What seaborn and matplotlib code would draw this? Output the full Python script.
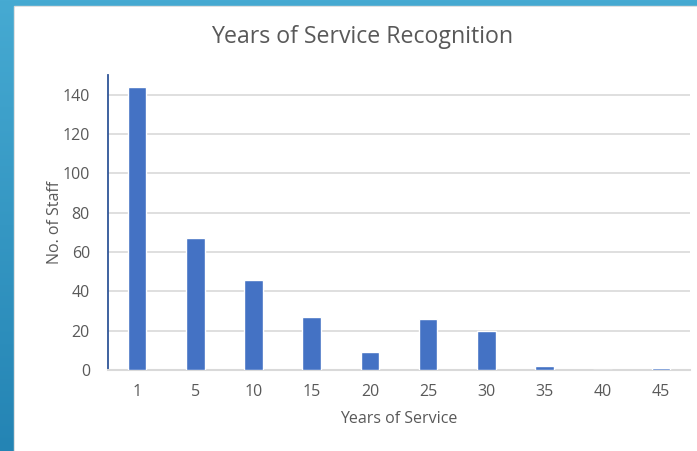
import numpy as np
import pandas as pd
import matplotlib
matplotlib.use("Agg")
import matplotlib.pyplot as plt
import seaborn as sns
from matplotlib.colors import LinearSegmentedColormap

years = ["1", "5", "10", "15", "20", "25", "30", "35", "40", "45"]
staff = [144, 67, 46, 27, 9, 26, 20, 2, 0, 1]
yticks = [0, 20, 40, 60, 80, 100, 120, 140]

sns.set_theme(style="white")
plt.rcParams['font.family'] = ['Open Sans', 'DejaVu Sans']

W, H = 697, 451
fig = plt.figure(figsize=(W / 100, H / 100), dpi=100)

# background frame with blue gradient
bg = fig.add_axes([0, 0, 1, 1], zorder=-10)
grad = np.linspace(0, 1, 256).reshape(-1, 1)
cmap = LinearSegmentedColormap.from_list("b", ["#46AAD2", "#2484B4"])
bg.imshow(grad, aspect="auto", cmap=cmap, extent=[0, 1, 0, 1], origin="upper")
bg.add_patch(plt.Rectangle((14 / W, 0), 1, 1 - 6 / H, color="#DADADA", zorder=2))
bg.add_patch(plt.Rectangle((15 / W, 0), 1, 1 - 7 / H, color="white", zorder=3))
bg.set_xlim(0, 1)
bg.set_ylim(0, 1)
bg.axis("off")

ax = fig.add_axes([108 / W, 1 - 370 / H, (690 - 108) / W, (370 - 75) / H])
df = pd.DataFrame({"Years of Service": years, "No. of Staff": staff})
sns.barplot(data=df, x="Years of Service", y="No. of Staff", order=years,
            color="#4472C4", saturation=1, width=0.32, ax=ax, zorder=3)

ax.set_xlim(-0.5, len(years) - 0.5)
ax.set_ylim(0, 150)
ax.set_yticks(yticks)
ax.yaxis.grid(True, color="#D9D9D9", linewidth=1.2, zorder=0)
ax.set_axisbelow(True)
for s in ["top", "right"]:
    ax.spines[s].set_visible(False)
ax.spines["left"].set_color("#2F5597")
ax.spines["left"].set_linewidth(1.3)
ax.spines["bottom"].set_color("#D9D9D9")
ax.spines["bottom"].set_linewidth(1.5)
ax.tick_params(axis="y", direction="in", length=4, width=1.2, color="#2F5597",
               labelsize=11.5, labelcolor="#595959", pad=13)
ax.tick_params(axis="x", length=0, labelsize=11.5, labelcolor="#595959", pad=10)
ax.set_xlabel("Years of Service", fontsize=11.5, color="#595959", labelpad=8)
ax.set_ylabel("No. of Staff", fontsize=11.5, color="#595959", labelpad=0)

fig.text(362 / W, 1 - 37 / H, "Years of Service Recognition", ha="center", va="center",
         fontsize=16.7, color="#595959")

fig.savefig("out.png", dpi=100)
